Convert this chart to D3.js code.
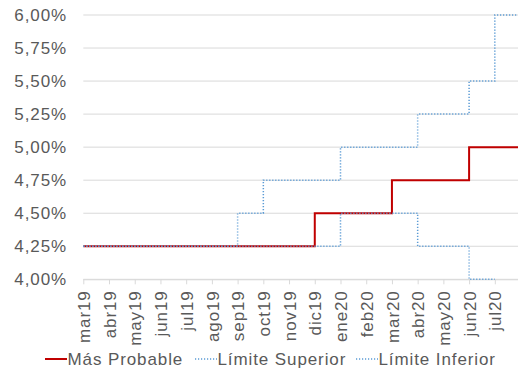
<!DOCTYPE html>
<html>
<head>
<meta charset="utf-8">
<script src="https://cdn.jsdelivr.net/npm/d3@7"></script>
<style>
  html, body { margin: 0; padding: 0; background: #fff; }
  svg { display: block; }
  text { font-family: "Liberation Sans", Arial, sans-serif; fill: #595959; }
</style>
</head>
<body>
<svg id="chart" width="518" height="377"></svg>
<script>
// Month labels on the x axis (one tick per month)
const months = ["mar19","abr19","may19","jun19","jul19","ago19","sep19","oct19","nov19",
                "dic19","ene20","feb20","mar20","abr20","may20","jun20","jul20"];

// Rate paths by month index (step after each month start); last entry is the end of the range
const masProbable    = [4.25,4.25,4.25,4.25,4.25,4.25,4.25,4.25,4.25,4.50,4.50,4.50,4.75,4.75,4.75,5.00,5.00,5.00];
const limiteSuperior = [4.25,4.25,4.25,4.25,4.25,4.25,4.50,4.75,4.75,4.75,5.00,5.00,5.00,5.25,5.25,5.50,6.00,6.00];
const limiteInferior = [4.25,4.25,4.25,4.25,4.25,4.25,4.25,4.25,4.25,4.25,4.50,4.50,4.50,4.25,4.25,4.00,4.00];

const yTicks = [4.00,4.25,4.50,4.75,5.00,5.25,5.50,5.75,6.00];

const svg = d3.select("#chart");
const plotLeft = 83.3, plotTop = 15, plotBottom = 279.3;
const monthStep = 25.72;
const fontSize = "17px", spacing = "0.9px";
const dotted = "1.2,1.8";

const x = d3.scaleLinear().domain([0, 17]).range([plotLeft, plotLeft + 17 * monthStep]);
const y = d3.scaleLinear().domain([4, 6]).range([plotBottom, plotTop]);

const fmt = v => v.toFixed(2).replace(".", ",") + "%";

// Horizontal gridlines
svg.append("g").selectAll("line").data(yTicks).join("line")
  .attr("x1", plotLeft).attr("x2", 518)
  .attr("y1", d => y(d)).attr("y2", d => y(d))
  .attr("stroke", "#d9d9d9").attr("stroke-width", 1);

// Y axis labels
svg.append("g").selectAll("text").data(yTicks).join("text")
  .attr("x", 67).attr("y", d => y(d)).attr("dy", "0.36em")
  .attr("text-anchor", "end")
  .style("font-size", fontSize).style("letter-spacing", spacing)
  .text(fmt);

// X axis with month ticks
const xAxis = d3.axisBottom(x)
  .tickValues(d3.range(months.length))
  .tickSize(5)
  .tickFormat(i => months[i]);

const gx = svg.append("g").attr("transform", `translate(0,${plotBottom})`).call(xAxis);
gx.select(".domain").attr("stroke", "#d9d9d9").attr("d", `M${plotLeft},0.5H518`);
gx.selectAll(".tick line").attr("stroke", "#d9d9d9");
gx.selectAll(".tick text")
  .attr("transform", "rotate(-90)")
  .attr("x", -11).attr("y", 0).attr("dy", "0.36em")
  .attr("text-anchor", "end")
  .style("font-size", fontSize).style("letter-spacing", spacing)
  .style("fill", "#595959")
  .style("font-family", "'Liberation Sans', Arial, sans-serif");

const line = d3.line()
  .x((d, i) => x(i))
  .y(d => y(d))
  .curve(d3.curveStepAfter);

// Most likely path first, the dotted bounds on top
const plot = svg.append("g");
plot.append("path").datum(masProbable)
  .attr("d", line).attr("fill", "none")
  .attr("stroke", "#c00000").attr("stroke-width", 2);
plot.append("path").datum(limiteSuperior)
  .attr("d", line).attr("fill", "none")
  .attr("stroke", "#5b9bd5").attr("stroke-width", 1.5).attr("stroke-dasharray", dotted);
plot.append("path").datum(limiteInferior)
  .attr("d", line).attr("fill", "none")
  .attr("stroke", "#5b9bd5").attr("stroke-width", 1.5).attr("stroke-dasharray", dotted);

// Legend
const legend = [
  { name: "Más Probable",     color: "#c00000", dash: null,   width: 2,   x: 45 },
  { name: "Límite Superior",  color: "#5b9bd5", dash: dotted, width: 1.5, x: 195 },
  { name: "Límite Inferior",  color: "#5b9bd5", dash: dotted, width: 1.5, x: 356 }
];
const lg = svg.append("g").selectAll("g").data(legend).join("g")
  .attr("transform", d => `translate(${d.x},359)`);
lg.append("line").attr("x1", 0).attr("x2", 22).attr("y1", 0).attr("y2", 0)
  .attr("stroke", d => d.color).attr("stroke-width", d => d.width)
  .attr("stroke-dasharray", d => d.dash);
lg.append("text").attr("x", 22.5).attr("dy", "0.36em")
  .style("font-size", fontSize).style("letter-spacing", spacing)
  .text(d => d.name);
</script>
</body>
</html>
